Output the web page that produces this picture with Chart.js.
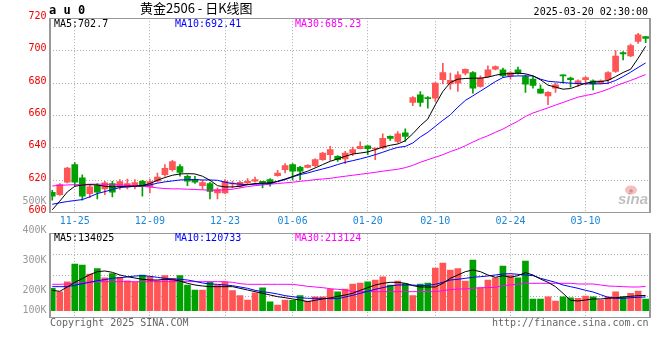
<!DOCTYPE html>
<html>
<head>
<meta charset="utf-8">
<script src="https://cdn.jsdelivr.net/npm/chart.js@4.4.1/dist/chart.umd.min.js"></script>
<style>
    html, body { margin: 0; padding: 0; background: #fff; }
    #wrap { position: relative; width: 660px; height: 360px; }
    #priceChart { position: absolute; left: 0; top: 0; }
    #volChart { position: absolute; left: 0; top: 190px; }
</style>
</head>
<body>
<div id="wrap">
    <canvas id="priceChart" width="660" height="230"></canvas>
    <canvas id="volChart" width="660" height="150"></canvas>
</div>
<script>
// ---------- Data (for au2506) ----------
var dates = [
    '11-20', '11-21', '11-22', '11-25', '11-26', '11-27', '11-28', '11-29',
    '12-02', '12-03', '12-04', '12-05', '12-06', '12-09', '12-10', '12-11', '12-12', '12-13',
    '12-16', '12-17', '12-18', '12-19', '12-20', '12-23', '12-24', '12-25', '12-26', '12-27',
    '12-30', '12-31', '01-02', '01-03', '01-06', '01-07', '01-08', '01-09', '01-10',
    '01-13', '01-14', '01-15', '01-16', '01-17', '01-20', '01-21', '01-22', '01-23', '01-24',
    '01-27', '02-05', '02-06', '02-07', '02-10', '02-11', '02-12', '02-13', '02-14',
    '02-17', '02-18', '02-19', '02-20', '02-21', '02-24', '02-25', '02-26', '02-27', '02-28',
    '03-03', '03-04', '03-05', '03-06', '03-07', '03-10', '03-11', '03-12', '03-13', '03-14',
    '03-17', '03-18', '03-19', '03-20'
];
var tickDates = ['11-25', '12-09', '12-23', '01-06', '01-20', '02-10', '02-24', '03-10'];
var priceTicks = [600, 620, 640, 660, 680, 700, 720];
var volLabels = ['500K', '400K', '300K', '200K', '100K'];

var openPx = [
    612.6, 611.2, 618.8, 629.7, 621.5, 611.8, 616.7, 614.7, 618.0, 615.9,
    615.9, 616.1, 619.4, 615.9, 619.4, 623.5, 626.6, 628.4, 622.5, 620.6,
    616.7, 618.0, 612.2, 612.2, 617.7, 616.3, 618.4, 619.4, 619.4, 620.4,
    622.9, 626.6, 629.7, 628.0, 628.0, 629.0, 632.7, 635.8, 634.8, 633.2,
    636.8, 639.5, 641.3, 639.3, 639.9, 647.1, 644.0, 649.3, 668.0, 672.7,
    671.1, 670.7, 682.0, 679.5, 679.9, 686.1, 686.5, 677.9, 684.0, 688.5,
    688.1, 684.4, 688.1, 684.0, 682.4, 676.2, 672.1, 676.8, 685.0, 683.0,
    679.5, 682.0, 681.4, 679.9, 682.0, 687.1, 698.8, 696.7, 705.6, 708.6
];
var closePx = [
    610.2, 617.4, 627.6, 618.8, 610.2, 615.9, 612.6, 618.4, 612.6, 619.2,
    618.0, 618.6, 616.1, 619.2, 621.9, 627.4, 631.5, 624.9, 619.4, 618.8,
    618.6, 613.2, 614.3, 619.4, 618.3, 618.8, 619.4, 620.4, 618.4, 618.0,
    624.5, 629.0, 625.6, 625.6, 629.3, 632.7, 636.8, 638.9, 632.7, 636.8,
    638.9, 640.9, 639.5, 639.9, 645.9, 645.9, 648.7, 647.1, 671.1, 668.0,
    670.3, 679.9, 686.5, 681.6, 685.0, 688.5, 676.8, 683.0, 688.1, 690.2,
    684.4, 686.5, 686.1, 679.3, 678.5, 673.8, 674.2, 678.9, 684.4, 682.0,
    681.4, 683.4, 679.5, 681.4, 686.5, 696.7, 698.0, 703.1, 709.7, 707.6
];
var highPx = [
    613.8, 618.0, 628.0, 630.9, 623.3, 617.4, 618.0, 619.4, 619.4, 620.4,
    620.8, 620.4, 620.0, 620.8, 624.5, 629.7, 632.3, 629.7, 623.3, 622.5,
    620.0, 618.8, 615.3, 620.4, 619.4, 619.4, 621.0, 621.9, 619.4, 621.0,
    626.2, 630.3, 630.3, 628.6, 629.7, 633.2, 637.2, 640.9, 635.2, 637.9,
    640.5, 643.8, 641.3, 639.9, 648.7, 647.5, 650.0, 651.8, 671.7, 674.8,
    671.7, 680.3, 692.2, 686.1, 687.1, 688.7, 687.1, 684.4, 690.6, 690.6,
    689.2, 687.1, 689.8, 685.0, 684.0, 678.9, 674.8, 679.9, 685.0, 683.6,
    682.0, 684.0, 682.0, 682.0, 687.1, 700.0, 699.4, 704.1, 710.7, 708.6
];
var lowPx = [
    607.7, 610.6, 618.4, 616.3, 607.7, 609.2, 608.5, 611.2, 609.8, 614.3,
    614.7, 614.7, 610.2, 612.2, 618.8, 622.5, 625.6, 622.5, 616.7, 618.0,
    614.3, 608.5, 608.5, 611.8, 615.3, 615.7, 617.3, 618.8, 615.3, 616.3,
    622.5, 624.5, 620.4, 620.4, 627.6, 628.2, 632.3, 632.3, 631.7, 630.3,
    635.2, 639.3, 635.8, 632.7, 639.3, 644.6, 643.0, 644.0, 666.0, 665.6,
    664.5, 668.6, 679.5, 676.2, 674.8, 685.0, 673.8, 677.5, 683.6, 688.1,
    684.0, 682.4, 685.5, 674.2, 676.8, 673.8, 666.6, 674.2, 679.9, 677.5,
    677.9, 678.9, 675.8, 679.5, 679.5, 686.5, 694.3, 696.3, 704.5, 704.9
];

var ma5 = [
    601.8, 607.1, 612.8, 616.3, 617.1, 617.3, 617.1, 616.3, 615.9, 616.1,
    616.3, 616.3, 616.7, 618.0, 620.0, 621.7, 623.1, 623.9, 624.1, 623.9,
    622.5, 620.0, 616.7, 615.9, 615.9, 616.3, 617.3, 618.0, 618.2, 618.4,
    619.4, 620.8, 622.3, 624.1, 625.6, 627.6, 629.7, 631.7, 633.2, 634.8,
    636.2, 636.8, 637.5, 638.9, 640.5, 641.6, 642.4, 644.4, 648.7, 653.7,
    657.8, 666.6, 674.8, 680.3, 682.4, 682.8, 683.0, 683.0, 683.6, 684.8,
    685.7, 685.7, 686.1, 685.7, 684.4, 682.0, 678.7, 677.5, 676.2, 676.6,
    678.3, 679.9, 680.7, 680.9, 681.6, 684.0, 686.5, 688.5, 695.3, 702.7
];
var ma10 = [
    605.2, 606.1, 606.9, 607.5, 608.1, 609.8, 611.8, 613.0, 614.3, 615.5,
    615.9, 616.3, 616.7, 617.1, 618.2, 619.0, 619.6, 620.2, 620.4, 620.4,
    620.2, 620.2, 620.0, 618.8, 618.0, 617.6, 617.3, 617.6, 617.8, 618.0,
    619.2, 620.4, 622.1, 623.5, 624.5, 625.8, 627.0, 628.2, 629.7, 631.1,
    632.1, 633.2, 634.4, 635.8, 637.3, 638.9, 640.3, 640.9, 643.0, 646.7,
    649.6, 653.3, 657.0, 660.4, 665.1, 669.3, 672.1, 675.0, 677.9, 680.9,
    683.4, 684.2, 684.4, 684.4, 684.4, 682.4, 681.1, 680.7, 680.3, 679.9,
    679.7, 679.5, 679.5, 679.5, 679.9, 681.6, 684.0, 686.7, 689.6, 692.41
];
var ma30 = [
    616.5, 616.9, 617.1, 617.3, 617.3, 617.6, 617.6, 617.6, 617.3, 617.1,
    616.9, 616.7, 616.3, 615.9, 615.3, 614.9, 614.7, 614.7, 614.5, 614.3,
    614.1, 613.9, 613.9, 614.1, 614.5, 615.3, 616.1, 616.7, 617.1, 617.6,
    618.0, 618.4, 618.8, 619.4, 619.8, 620.4, 620.8, 621.2, 621.9, 622.5,
    623.1, 623.7, 624.3, 624.9, 625.6, 626.2, 626.8, 627.8, 629.2, 631.1,
    632.7, 634.2, 635.8, 637.7, 639.3, 641.3, 643.6, 645.7, 647.5, 649.6,
    651.6, 654.1, 656.5, 659.4, 661.5, 663.1, 664.7, 666.4, 668.0, 669.7,
    671.3, 672.3, 673.2, 674.6, 676.2, 678.3, 679.9, 681.6, 683.4, 685.23
];

// volume in thousands of lots
var volume = [
    197, 167, 255, 411, 402, 323, 370, 290, 326, 294,
    262, 250, 314, 299, 264, 308, 285, 308, 226, 182,
    182, 250, 226, 250, 176, 132, 94, 158, 202, 79,
    50, 94, 91, 132, 85, 123, 123, 188, 165, 191,
    235, 244, 253, 270, 297, 226, 261, 238, 132, 235,
    244, 376, 420, 358, 370, 261, 446, 202, 270, 290,
    393, 314, 290, 437, 103, 103, 123, 85, 123, 114,
    109, 129, 123, 94, 123, 165, 123, 153, 173, 103
];
var volMa5 = [
    179.3, 170.5, 208.6, 249.7, 281.9, 317.1, 343.5, 349.4, 337.7, 314.2,
    299.5, 287.8, 276.1, 270.2, 270.2, 276.1, 273.1, 261.4, 240.9, 226.2,
    217.4, 211.5, 211.5, 211.5, 211.5, 196.9, 182.2, 167.5, 152.9, 138.2,
    123.5, 114.7, 103.0, 94.2, 79.5, 91.3, 103.0, 111.8, 126.5, 138.2,
    152.9, 179.3, 202.7, 226.2, 240.9, 249.7, 249.7, 240.9, 220.3, 208.6,
    208.6, 208.6, 240.9, 284.9, 314.2, 343.5, 358.2, 343.5, 314.2, 293.7,
    308.3, 293.7, 308.3, 334.7, 314.2, 279.0, 249.7, 211.5, 152.9, 91.3,
    85.4, 94.2, 103.0, 103.0, 108.9, 114.7, 120.6, 126.5, 132.3, 134.025
];
var volMa10 = [
    211.5, 211.5, 211.5, 223.3, 237.9, 249.7, 264.3, 273.1, 284.9, 290.7,
    296.6, 305.4, 308.3, 302.5, 293.7, 284.9, 279.0, 276.1, 270.2, 258.5,
    243.8, 235.0, 232.1, 226.2, 220.3, 208.6, 196.9, 179.3, 167.5, 158.7,
    147.0, 132.3, 123.5, 114.7, 108.9, 108.9, 108.9, 105.9, 105.9, 120.6,
    135.3, 152.9, 170.5, 188.1, 202.7, 217.4, 226.2, 226.2, 226.2, 220.3,
    223.3, 232.1, 249.7, 270.2, 276.1, 284.9, 293.7, 299.5, 305.4, 314.2,
    323.0, 325.9, 320.1, 314.2, 308.3, 284.9, 267.3, 249.7, 226.2, 211.5,
    196.9, 179.3, 164.6, 141.1, 117.7, 108.9, 108.9, 114.7, 117.7, 120.733
];
var volMa30 = [
    232.1, 232.1, 235.0, 240.9, 246.7, 252.6, 255.5, 255.5, 255.5, 255.5,
    255.5, 255.5, 255.5, 255.5, 255.5, 255.5, 255.5, 255.5, 255.5, 255.5,
    255.5, 255.5, 255.5, 255.5, 249.7, 237.9, 232.1, 232.1, 232.1, 232.1,
    232.1, 232.1, 232.1, 223.3, 214.5, 208.6, 202.7, 193.9, 188.1, 182.2,
    167.5, 167.5, 167.5, 167.5, 167.5, 167.5, 167.5, 167.5, 167.5, 167.5,
    167.5, 167.5, 176.3, 185.1, 191.0, 191.0, 196.9, 202.7, 202.7, 205.7,
    220.3, 226.2, 235.0, 240.9, 240.9, 240.9, 240.9, 240.9, 240.9, 240.9,
    235.0, 235.0, 235.0, 226.2, 217.4, 214.5, 211.5, 208.6, 208.6, 213.124
];

// ---------- Styles ----------
var UP = '#ff5555';
var DOWN = '#00a000';
var GRID = '#aaaaaa';
var FRAME = '#999999';
var MONO = '"DejaVu Sans Mono", monospace';
var last = dates.length - 1;

var candleColors = closePx.map(function(c, i) {
    return c >= openPx[i] ? UP : DOWN;
});

function series(arr) {
    return arr.map(function(v, i) { return { x: i, y: v }; });
}

function drawFrame(ctx, a) {
    var top = Math.floor(a.top);
    var bottom = Math.floor(a.bottom);
    ctx.save();
    ctx.fillStyle = FRAME;
    ctx.fillRect(a.left - 1, top, 2, bottom - top + 1);
    ctx.fillRect(a.right - 1, top, 2, bottom - top + 1);
    ctx.fillRect(a.left, top, a.right - a.left, 1);
    ctx.fillRect(a.left, bottom, a.right - a.left, 1);
    ctx.restore();
}

function text(ctx, str, x, y, color, font, align) {
    ctx.fillStyle = color;
    ctx.font = font;
    ctx.textAlign = align || 'left';
    ctx.textBaseline = 'middle';
    ctx.fillText(str, x, y);
}

// x axis shared by both panels: bar index on a linear scale
function xScale(showLabels, height) {
    return {
        type: 'linear',
        offset: false,
        min: -0.3,
        max: 79.58,
        afterBuildTicks: function(s) {
            s.ticks = tickDates.map(function(d) { return { value: dates.indexOf(d) }; });
        },
        afterFit: function(s) { s.height = height; },
        grid: { color: GRID, drawTicks: false, offset: false },
        border: { display: false, dash: [1, 2] },
        ticks: {
            display: showLabels,
            autoSkip: false,
            maxRotation: 0,
            padding: 3,
            color: '#1c86d8',
            font: { family: MONO, size: 10 },
            callback: function(v) { return dates[v]; }
        }
    };
}

// ---------- Price panel ----------
var pricePlugin = {
    id: 'priceDeco',
    beforeDatasetsDraw: function(chart) {
        var ctx = chart.ctx;
        // sina watermark
        ctx.save();
        ctx.fillStyle = 'rgba(240,110,110,0.45)';
        ctx.beginPath();
        ctx.ellipse(631, 190, 6, 4.5, 0, 0, Math.PI * 2);
        ctx.fill();
        ctx.fillStyle = 'rgba(120,120,120,0.5)';
        ctx.beginPath();
        ctx.arc(631, 191, 1.8, 0, Math.PI * 2);
        ctx.fill();
        text(ctx, 'sina', 648, 200, 'rgba(150,150,150,0.6)', 'italic bold 15px "Liberation Sans"', 'right');
        ctx.restore();
    },
    afterDraw: function(chart) {
        var ctx = chart.ctx;
        drawFrame(ctx, chart.chartArea);
        ctx.save();
        text(ctx, 'a u 0', 49, 11, '#000', 'bold 12px ' + MONO);
        text(ctx, '黄金2506 - 日K线图', 140, 8.5, '#000', '13px "Noto Sans CJK SC"');
        text(ctx, '2025-03-20 02:30:00', 648, 12, '#000', '10px ' + MONO, 'right');
        text(ctx, 'MA5:' + ma5[last], 54, 24.5, '#000', '10px ' + MONO);
        text(ctx, 'MA10:' + ma10[last], 175, 24.5, '#0000ff', '10px ' + MONO);
        text(ctx, 'MA30:' + ma30[last], 295, 24.5, '#ff00ff', '10px ' + MONO);
        ctx.restore();
    }
};

var priceChart = new Chart(document.getElementById('priceChart'), {
    type: 'bar',
    data: {
        datasets: [
            {
                type: 'line', label: 'MA5', data: series(ma5), order: 0,
                borderColor: '#000000', borderWidth: 1, pointRadius: 0, tension: 0
            },
            {
                type: 'line', label: 'MA10', data: series(ma10), order: 0,
                borderColor: '#0000ff', borderWidth: 1, pointRadius: 0, tension: 0
            },
            {
                type: 'line', label: 'MA30', data: series(ma30), order: 0,
                borderColor: '#ff00ff', borderWidth: 1, pointRadius: 0, tension: 0
            },
            {
                label: 'body', order: 1, grouped: false,
                data: openPx.map(function(o, i) { return { x: i, y: [o, closePx[i]] }; }),
                backgroundColor: candleColors, barThickness: 6, minBarLength: 1
            },
            {
                label: 'wick', order: 2, grouped: false,
                data: lowPx.map(function(l, i) { return { x: i, y: [l, highPx[i]] }; }),
                backgroundColor: candleColors, barThickness: 1
            }
        ]
    },
    options: {
        responsive: false,
        animation: false,
        layout: { padding: { top: 18.2, right: 10, bottom: 0, left: 0 } },
        plugins: { legend: { display: false }, tooltip: { enabled: false } },
        scales: {
            x: xScale(true, 17.3),
            y: {
                min: 600,
                max: 720,
                afterBuildTicks: function(s) {
                    s.ticks = priceTicks.map(function(v) { return { value: v }; });
                },
                afterFit: function(s) { s.width = 50; },
                grid: {
                    drawTicks: false,
                    color: function(c) {
                        return (c.tick && (c.tick.value === 600 || c.tick.value === 720)) ? 'rgba(0,0,0,0)' : GRID;
                    }
                },
                border: { display: false, dash: [1, 2] },
                ticks: {
                    padding: 3.5,
                    labelOffset: -2,
                    color: '#ee0000',
                    font: { family: MONO, size: 10 },
                    callback: function(v) { return v; }
                }
            }
        }
    },
    plugins: [pricePlugin]
});

// ---------- Volume panel ----------
var volLabelY = [201, 230.5, 260.3, 290.5, 310.8];

var volPlugin = {
    id: 'volDeco',
    afterDraw: function(chart) {
        var ctx = chart.ctx;
        drawFrame(ctx, chart.chartArea);
        ctx.save();
        // canvas starts at page y = 190
        volLabels.forEach(function(lbl, i) {
            text(ctx, lbl, 46.5, volLabelY[i] - 190, '#999999', '10px ' + MONO, 'right');
        });
        text(ctx, 'MA5:' + Math.round(volMa5[last] * 1000), 54, 48.7, '#000', '10px ' + MONO);
        text(ctx, 'MA10:' + Math.round(volMa10[last] * 1000), 175, 48.7, '#0000ff', '10px ' + MONO);
        text(ctx, 'MA30:' + Math.round(volMa30[last] * 1000), 295, 48.7, '#ff00ff', '10px ' + MONO);
        text(ctx, 'Copyright 2025 SINA.COM', 50, 133.3, '#666666', '10px ' + MONO);
        text(ctx, 'http://finance.sina.com.cn', 648.5, 133.3, '#666666', '10px ' + MONO, 'right');
        ctx.restore();
    }
};

var volChart = new Chart(document.getElementById('volChart'), {
    type: 'bar',
    data: {
        datasets: [
            {
                type: 'line', label: 'VMA5', data: series(volMa5), order: 0,
                borderColor: '#000000', borderWidth: 1, pointRadius: 0, tension: 0
            },
            {
                type: 'line', label: 'VMA10', data: series(volMa10), order: 0,
                borderColor: '#0000ff', borderWidth: 1, pointRadius: 0, tension: 0
            },
            {
                type: 'line', label: 'VMA30', data: series(volMa30), order: 0,
                borderColor: '#ff00ff', borderWidth: 1, pointRadius: 0, tension: 0
            },
            {
                label: 'volume', order: 1, grouped: false,
                data: series(volume),
                backgroundColor: candleColors, barThickness: 6
            }
        ]
    },
    options: {
        responsive: false,
        animation: false,
        layout: { padding: { top: 43.8, right: 10, bottom: 0, left: 0 } },
        plugins: { legend: { display: false }, tooltip: { enabled: false } },
        scales: {
            x: xScale(false, 22.3),
            y: {
                min: -61.6,
                max: 676.7,
                afterBuildTicks: function(s) {
                    var t = [];
                    for (var j = 0; j <= 4; j++) {
                        t.push({ value: s.min + (s.max - s.min) * j / 4 });
                    }
                    s.ticks = t;
                },
                afterFit: function(s) { s.width = 50; },
                grid: {
                    drawTicks: false,
                    color: function(c) {
                        return (c.index === 0 || c.index === 4) ? 'rgba(0,0,0,0)' : GRID;
                    }
                },
                border: { display: false, dash: [1, 2] },
                ticks: { display: false }
            }
        }
    },
    plugins: [volPlugin]
});
</script>
</body>
</html>
